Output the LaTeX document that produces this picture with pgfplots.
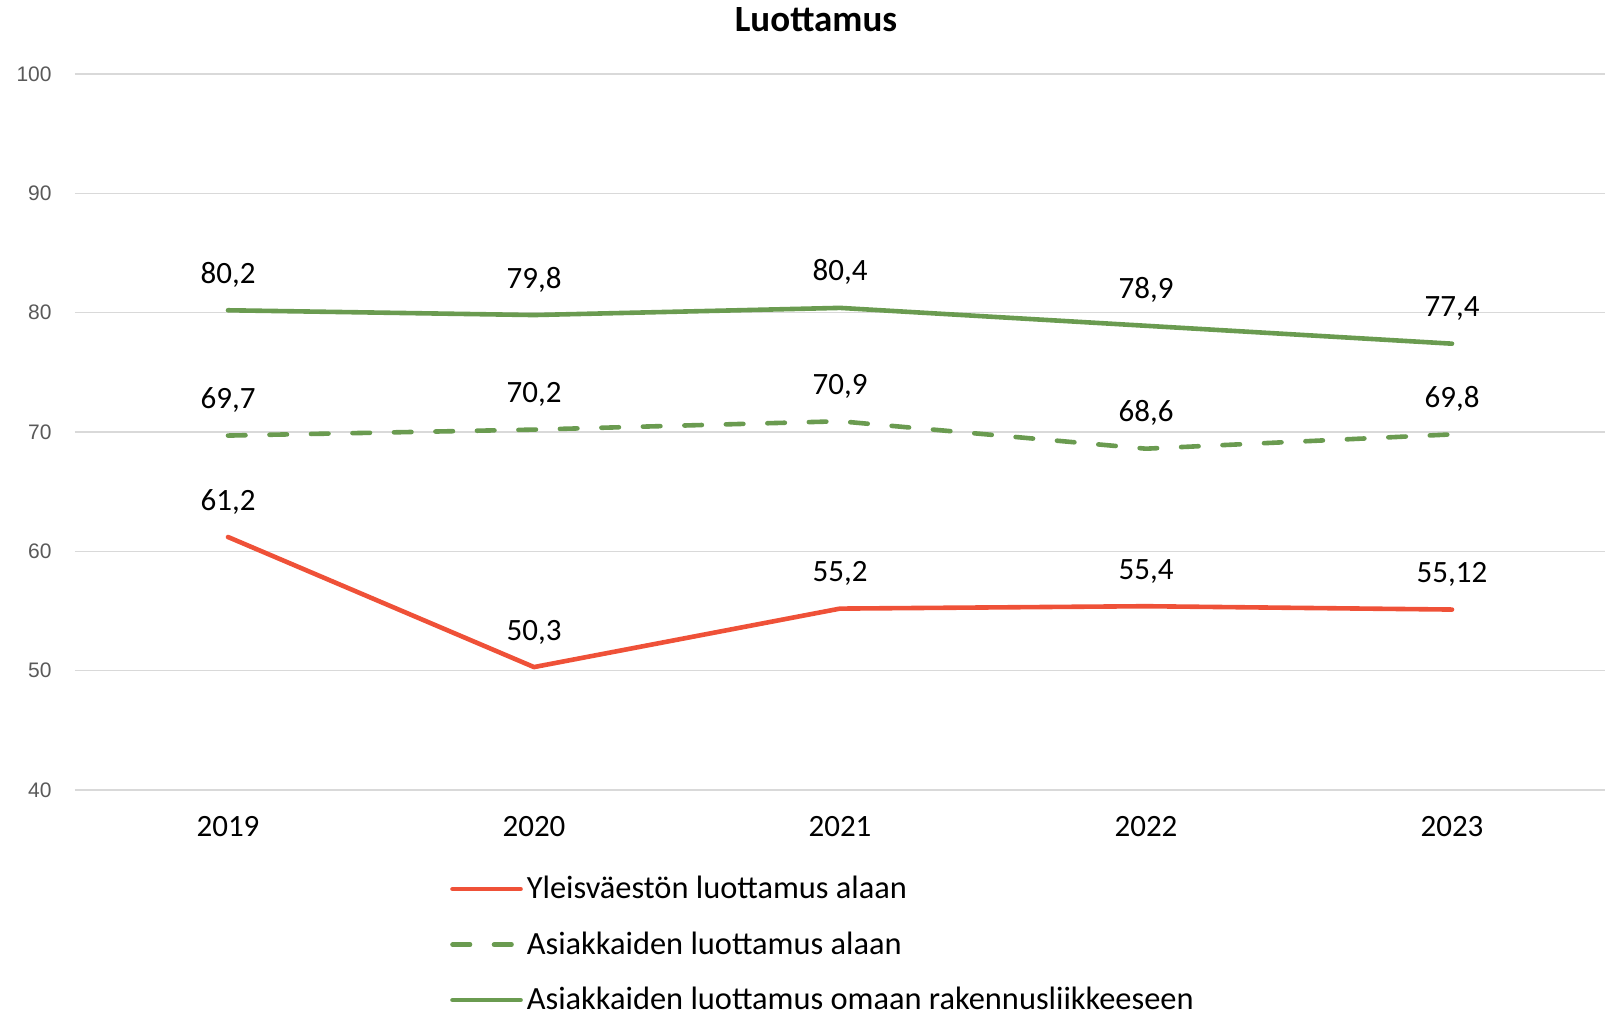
\documentclass[border=0pt]{standalone}
\usepackage{pgfplots}
\pgfplotsset{compat=1.18}
\usepackage{fontspec}
\setmainfont{Carlito}
\newfontfamily\tickfont{Liberation Sans}

\definecolor{redline}{HTML}{EF5138}
\definecolor{greenline}{HTML}{6A9B50}
\definecolor{gridgrey}{HTML}{D9D9D9}
\definecolor{ticktext}{HTML}{595959}

\begin{document}
\begin{tikzpicture}
\begin{axis}[
    at={(0,0)}, anchor=south west,
    scale only axis,
    width=765pt, height=358pt,
    xmin=-0.5, xmax=4.5,
    ymin=40, ymax=100,
    xtick={0,1,2,3,4},
    xticklabels={2019,2020,2021,2022,2023},
    ytick={40,50,60,70,80,90,100},
    ymajorgrids=true,
    grid style={gridgrey, line width=0.8pt},
    axis line style={draw=none},
    major tick length=0pt,
    tick style={draw=none},
    /pgf/number format/assume math mode=true,
    xticklabel style={font=\fontsize{15.5}{18}\selectfont, anchor=base, yshift=-23.5pt, inner sep=0pt},
    yticklabel style={font=\tickfont\fontsize{10.5}{12}\selectfont, text=ticktext, anchor=east, xshift=-11.5pt, inner sep=0pt},
    title={Luottamus},
    every axis title shift=0pt,
    title style={font=\bfseries\fontsize{18.5}{22}\selectfont, at={(0.4843,1)}, anchor=base, yshift=21pt, inner sep=0pt},
    nodes near coords,
    every node near coord/.append style={font=\fontsize{15.5}{18}\selectfont, text=black, anchor=base, yshift=13.5pt, inner sep=0pt,
        /pgf/number format/.cd, use comma, fixed, precision=2, assume math mode=true},
    legend style={draw=none, fill=none, at={(0.245,-0.12)}, anchor=north west, inner sep=0pt,
        font=\fontsize{16.2}{19}\selectfont, row sep=15pt,
        nodes={inner sep=0pt, inner xsep=2pt}},
    legend cell align=left,
    legend image code/.code={\draw[#1] (0pt,0pt) -- (34pt,0pt);},
    every axis plot/.append style={line width=2.3pt, line join=round, line cap=round},
]
\addplot[color=redline, mark=none] coordinates {
    (0,61.2) (1,50.3) (2,55.2) (3,55.4) (4,55.12)
};
\addlegendentry{Yleisväestön luottamus alaan}
\addplot[color=greenline, mark=none, dash pattern=on 8.75pt off 12pt] coordinates {
    (0,69.7) (1,70.2) (2,70.9) (3,68.6) (4,69.8)
};
\addlegendentry{Asiakkaiden luottamus alaan}
\addplot[color=greenline, mark=none] coordinates {
    (0,80.2) (1,79.8) (2,80.4) (3,78.9) (4,77.4)
};
\addlegendentry{Asiakkaiden luottamus omaan rakennusliikkeeseen}
\end{axis}
\pgfresetboundingbox
\path[use as bounding box] (-37.5pt,-110pt) rectangle (769pt,395pt);
\end{tikzpicture}
\end{document}
